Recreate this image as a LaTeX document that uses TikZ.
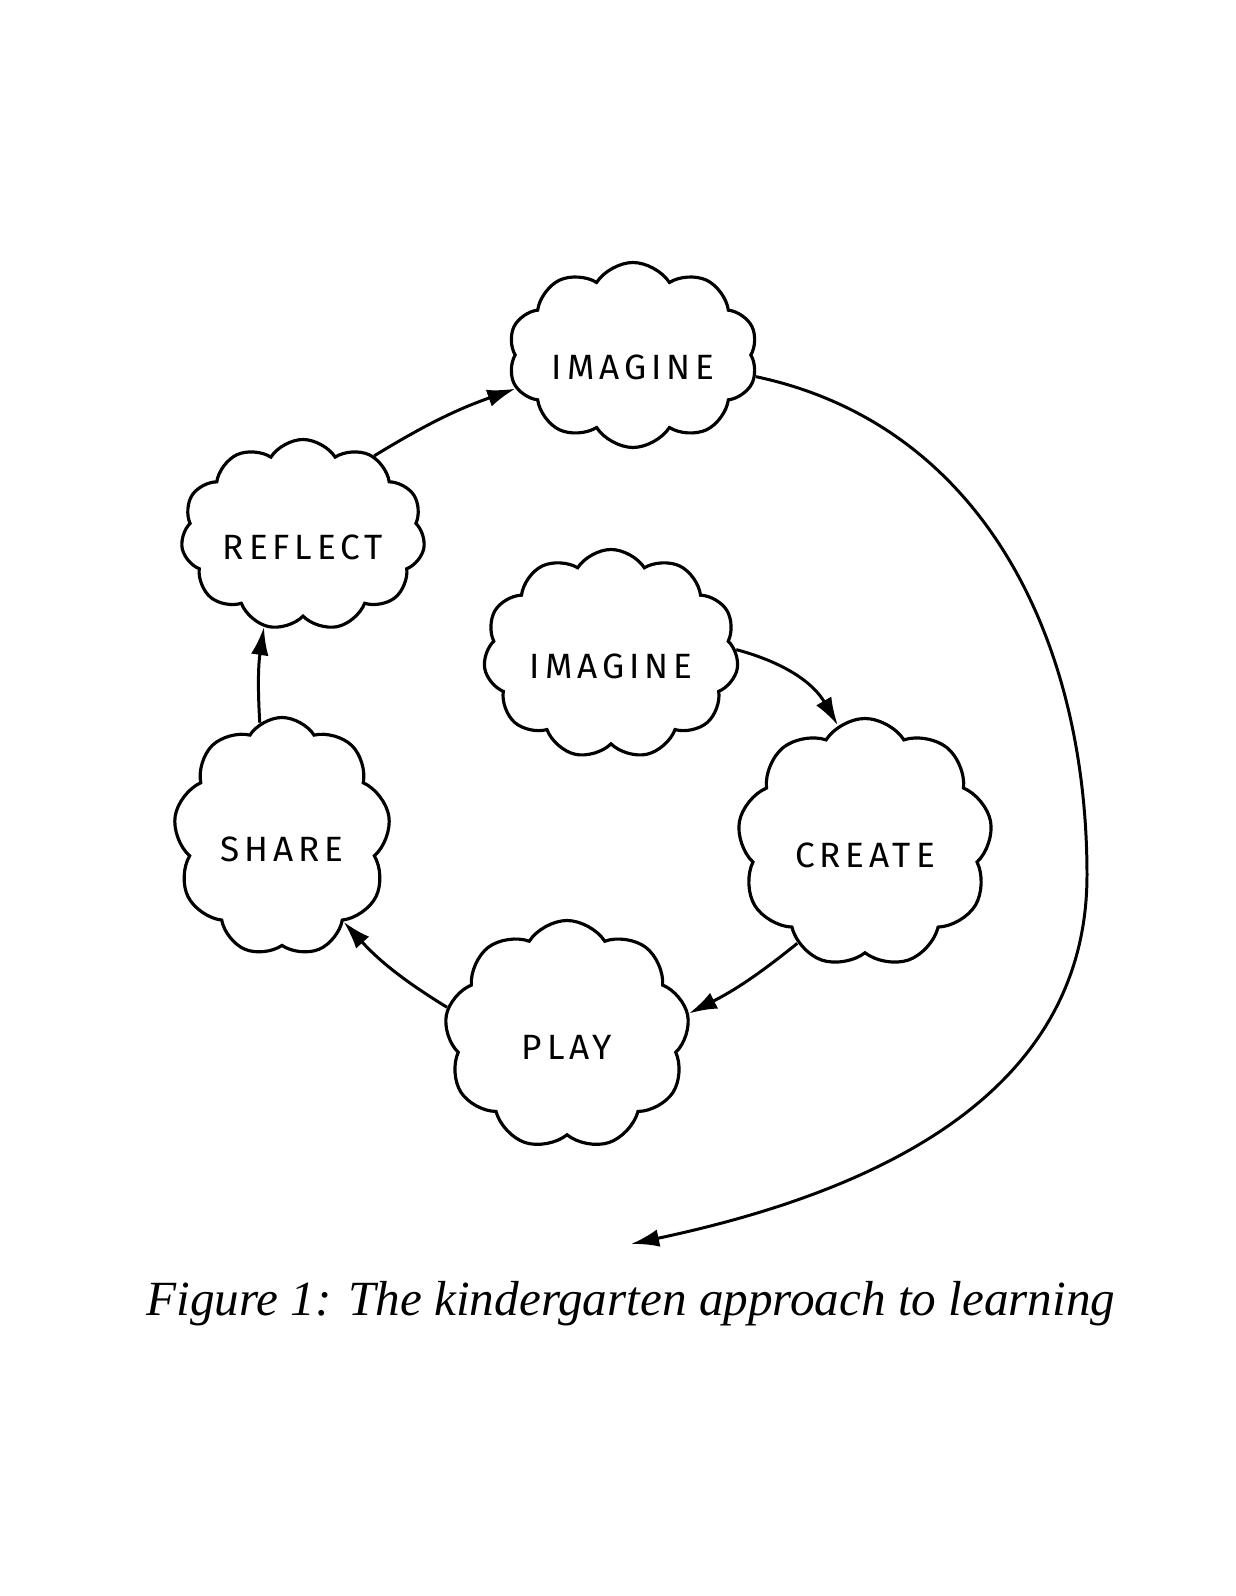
\documentclass[tikz,border=0pt]{standalone}
\usepackage{fontspec}
\setmainfont{Liberation Serif}
\newfontfamily\handfont[LetterSpace=14]{Fira Sans}
\usetikzlibrary{arrows.meta,positioning,shapes.symbols}
\tikzset{
  cldblk/.style={draw,cloud,cloud puffs=10,cloud puff arc=115,cloud ignores aspect,line width=1.8pt,inner sep=0pt,align=center,text height=28pt,text depth=0pt,font=\handfont\fontsize{20}{22}\selectfont},
  arr/.style={-{Latex[length=16pt,width=10pt]},line width=1.7pt},
  lbl/.style={font=\itshape\fontsize{28}{32}\selectfont}
}
\begin{document}
\begin{tikzpicture}[x=0.02cm,y=0.02cm]
  \useasboundingbox (0,0) rectangle (1236,1596);
  % Outer cycle
  \node[cldblk, minimum width=250*0.02cm, minimum height=185*0.02cm] (imagTop) at (633,1241) {IMAGINE};
  \node[cldblk, minimum width=244*0.02cm, minimum height=191*0.02cm, cloud puffs=11] (reflect) at (303,1061) {REFLECT};
  \node[cldblk, minimum width=217*0.02cm, minimum height=239*0.02cm, cloud puffs=9] (share) at (282,759) {SHARE};
  \node[cldblk, minimum width=245*0.02cm, minimum height=229*0.02cm, cloud puffs=9] (play) at (567,561) {PLAY};
  \node[cldblk, minimum width=255*0.02cm, minimum height=249*0.02cm, cloud puffs=9] (create) at (865,753) {CREATE};

  % Inner start
  \node[cldblk, minimum width=255*0.02cm, minimum height=209*0.02cm, cloud puffs=11] (imagMid) at (611,942) {IMAGINE};

  % Connections
  \draw[arr] (imagMid.2) to[out=-15,in=120] (create.103);
  \draw[arr] (create.236) to[bend left=6] (play.10);
  \draw[arr] (play.167) to[bend left=8] (share.306);
  \draw[arr] (share.101) to[bend left=6] (reflect.247);
  \draw[arr] (reflect.48) to[bend left=6] (imagTop.196);

  % Long loop back
  \coordinate (loopR) at (1087,721);
  \coordinate (loopEnd) at (631,352);
  \draw[arr] (imagTop.350) to[out=-12,in=90] (loopR) to[out=-90,in=12] (loopEnd);

  % Caption
  \node[lbl] (caption) at (631,292) {Figure 1: The kindergarten approach to learning};
\end{tikzpicture}
\end{document}
